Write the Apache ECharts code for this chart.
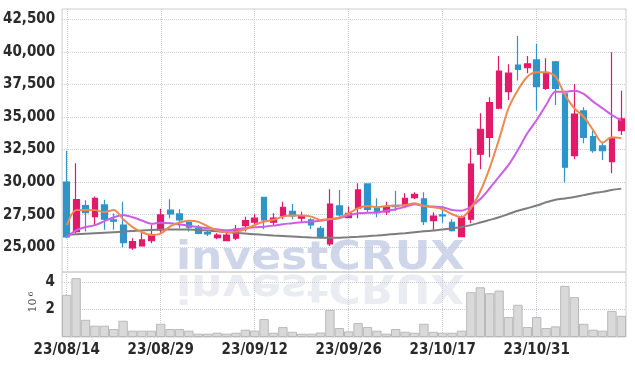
<!DOCTYPE html>
<html><head><meta charset="utf-8">
<script src="https://cdn.jsdelivr.net/npm/echarts@6/dist/echarts.min.js"></script>
<style>html,body{margin:0;padding:0;background:#fff}#c{width:635px;height:366px}</style>
</head><body><div id="c"></div>
<script>
const dates = ['23/08/14','23/08/16','23/08/17','23/08/18','23/08/21','23/08/22','23/08/23','23/08/24','23/08/25','23/08/28',
'23/08/29','23/08/30','23/08/31','23/09/01','23/09/04','23/09/05','23/09/06','23/09/07','23/09/08','23/09/11',
'23/09/12','23/09/13','23/09/14','23/09/15','23/09/18','23/09/19','23/09/20','23/09/21','23/09/22','23/09/25',
'23/09/26','23/09/27','23/10/04','23/10/05','23/10/06','23/10/10','23/10/11','23/10/12','23/10/13','23/10/16',
'23/10/17','23/10/18','23/10/19','23/10/20','23/10/23','23/10/24','23/10/25','23/10/26','23/10/27','23/10/30',
'23/10/31','23/11/01','23/11/02','23/11/03','23/11/06','23/11/07','23/11/08','23/11/09','23/11/10','23/11/13'];
const openP  = [30000,26200,28200,27350,28250,27100,26700,24950,25100,25500,26330,27860,27560,26890,26460,26120,25740,25510,25690,26660,26920,28840,26920,27430,27760,27230,27100,26460,25250,28170,27270,27990,29860,28070,27710,28220,28170,28810,28710,27040,27480,26920,25810,27150,32140,33440,35670,36940,38990,38780,39380,37200,39240,36770,32030,35480,33490,32780,31570,33950];
const closeP = [25800,28650,27650,28750,27150,27000,25350,25430,25560,25950,27480,27560,27100,26540,26070,26020,25940,25940,26380,27040,27230,27100,27230,28070,27400,27430,26710,25810,28320,27480,27610,29400,27900,27660,28070,28120,28760,29070,26970,27400,27400,26270,27300,31390,34060,36100,38530,38360,38660,39070,37330,38360,37200,31140,35230,33440,32410,32410,33410,34850];
const lowP   = [25700,26050,26200,26700,26350,26350,25000,24800,25080,25300,26120,27230,26460,26200,26000,25870,25610,25460,25560,26200,26710,26380,26710,27150,27150,26890,26400,25690,25100,27350,27230,27230,27700,27300,27480,27810,27990,28710,26710,26250,26890,26200,25770,26840,30990,31910,35600,36300,37800,38360,35480,37070,35920,29990,31750,32980,32260,31700,30680,33620];
const highP  = [32400,31450,28600,28900,28650,27600,28500,25700,26120,26700,27950,28680,27920,27040,26710,26330,26070,26120,26710,27350,27530,28850,27610,28500,28320,27730,27230,26630,29450,29400,28120,29910,29860,28760,28500,29340,29140,29220,29220,27690,28120,27150,27430,32600,35290,36510,39680,39050,41220,39680,40600,39500,39300,36840,37530,35750,33950,33100,39970,37020];
const maShort = [26700,27850,27860,27850,27700,27860,27150,26550,26150,25950,26050,26600,26900,27030,26950,26600,26280,26150,26200,26380,26710,26970,27100,27350,27430,27430,27350,27100,27170,27270,27610,27990,28170,28070,28170,28190,28250,28380,28170,28070,27920,27530,27300,28000,29300,31100,33300,35670,37070,38090,38430,38430,38090,36690,35670,35020,34000,33030,33440,33370];
const maMid = [25800,26300,26550,26700,27000,27300,27480,27300,27050,26800,26880,26840,26750,26650,26550,26450,26380,26300,26380,26460,26540,26580,26660,26770,26840,26920,26970,27040,27150,27230,27450,27610,27640,27660,27800,27920,28100,28300,28170,28120,28070,27860,27810,28120,28700,29530,30420,31320,32470,33750,34770,35920,36940,36940,37020,36770,36180,35670,35150,34720];
const maLong = [25950,26000,26040,26080,26120,26160,26200,26240,26280,26320,26350,26370,26370,26360,26330,26280,26220,26160,26100,26050,26000,25950,25900,25860,25820,25780,25750,25730,25720,25730,25760,25800,25850,25900,25960,26020,26080,26150,26220,26290,26360,26450,26550,26700,26900,27100,27300,27550,27800,28000,28200,28450,28650,28750,28850,29000,29150,29250,29400,29500];
const volumeM = [3.06,4.27,1.25,0.82,0.82,0.58,1.18,0.46,0.46,0.46,0.96,0.58,0.58,0.46,0.24,0.24,0.31,0.24,0.31,0.53,0.46,1.30,0.31,0.72,0.38,0.24,0.24,0.33,1.97,0.65,0.41,1.01,0.72,0.46,0.24,0.58,0.38,0.31,0.96,0.38,0.31,0.31,0.46,3.25,3.61,3.18,3.37,1.45,2.34,0.72,1.45,0.65,0.77,3.71,2.89,0.96,0.53,0.46,1.90,1.54];
const priceTicks = [25000,27500,30000,32500,35000,37500,40000,42500];
const volumeTicks = [2,4];
const dateGridIdx = [0,10,20,30,40,50];

const FONT = "'Liberation Sans Narrow','DejaVu Sans Condensed',sans-serif";
const candles = dates.map((d,i)=>[openP[i],closeP[i],lowP[i],highP[i]]);
const dotted = {type:'dotted', color:'#c5cadb', width:1};
const fmt = v => String(v).replace(/\B(?=(\d{3})+(?!\d))/g, ',');
const n = dates.length;

const chart = echarts.init(document.getElementById('c'), null, {renderer:'canvas'});
chart.setOption({
  animation:false,
  grid:[
    {left:62, right:9, top:9, height:263, show:true, borderColor:'#cccccc', borderWidth:1},
    {left:62, right:9, top:272, height:65, show:true, borderColor:'#cccccc', borderWidth:1}
  ],
  graphic:[
    {type:'text', x:176, y:272, scaleX:1.13, z:-1, silent:true,
     style:{text:'investCRUX', x:0, y:-13, font:"bold 39px 'DejaVu Sans'", fill:'#d0d6e9', verticalAlign:'middle'}},
    {type:'text', x:176, y:272, scaleX:1.13, scaleY:-1, z:-1, silent:true,
     style:{text:'investCRUX', x:0, y:-13, font:"bold 39px 'DejaVu Sans'", fill:'#ebebf2', verticalAlign:'middle'}},
    {type:'text', x:33, y:305.5, rotation:Math.PI/2, silent:true,
     style:{text:'10', font:"11px 'DejaVu Serif'", fill:'#444', align:'center', verticalAlign:'middle'}},
    {type:'text', x:30.5, y:294, rotation:Math.PI/2, silent:true,
     style:{text:'6', font:"8px 'DejaVu Serif'", fill:'#444', align:'center', verticalAlign:'middle'}}
  ],
  xAxis:[
    {type:'category', gridIndex:0, data:dates, boundaryGap:true,
     axisLine:{show:false}, axisTick:{show:false}, axisLabel:{show:false}, splitLine:{show:false}},
    {type:'category', gridIndex:1, data:dates, boundaryGap:true,
     axisLine:{show:false}, axisTick:{show:false},
     axisLabel:{interval:9, fontFamily:FONT, fontSize:15, fontWeight:'bold', color:'#2a2a2a', margin:6},
     splitLine:{show:false}},
    {type:'value', gridIndex:0, min:-0.5, max:n-0.5, show:true,
     axisLine:{show:false}, axisLabel:{show:false}, axisTick:{show:false, customValues:dateGridIdx},
     splitLine:{show:true, lineStyle:dotted}},
    {type:'value', gridIndex:1, min:-0.5, max:n-0.5, show:true,
     axisLine:{show:false}, axisLabel:{show:false}, axisTick:{show:false, customValues:dateGridIdx},
     splitLine:{show:true, lineStyle:dotted}}
  ],
  yAxis:[
    {type:'value', gridIndex:0, min:23100, max:43290,
     axisLine:{show:false}, axisTick:{show:false, customValues:priceTicks},
     axisLabel:{customValues:priceTicks, formatter:fmt, fontFamily:FONT, fontSize:15, fontWeight:'bold', color:'#2a2a2a', margin:7},
     splitLine:{show:true, lineStyle:dotted}},
    {type:'value', gridIndex:1, min:0, max:4.72,
     axisLine:{show:false}, axisTick:{show:false, customValues:volumeTicks},
     axisLabel:{customValues:volumeTicks, fontFamily:FONT, fontSize:15, fontWeight:'bold', color:'#2a2a2a', margin:7},
     splitLine:{show:true, lineStyle:dotted}}
  ],
  series:[
    {type:'candlestick', xAxisIndex:0, yAxisIndex:0, data:candles, barWidth:'66%',
     itemStyle:{color:'#e3196a', color0:'#2f95c8', borderColor:'#e3196a', borderColor0:'#2f95c8', borderWidth:1.2}},
    {type:'line', xAxisIndex:0, yAxisIndex:0, data:maLong, symbol:'none', smooth:0.3,
     lineStyle:{color:'#7d7d7d', width:2}},
    {type:'line', xAxisIndex:0, yAxisIndex:0, data:maMid, symbol:'none', smooth:0.3,
     lineStyle:{color:'#cc5de8', width:2}},
    {type:'line', xAxisIndex:0, yAxisIndex:0, data:maShort, symbol:'none', smooth:0.3,
     lineStyle:{color:'#ee8a50', width:2}},
    {type:'bar', xAxisIndex:1, yAxisIndex:1, data:volumeM, barCategoryGap:'0%',
     itemStyle:{color:'#d9d9d9', borderColor:'#b9b9b9', borderWidth:1}}
  ]
});
</script></body></html>
